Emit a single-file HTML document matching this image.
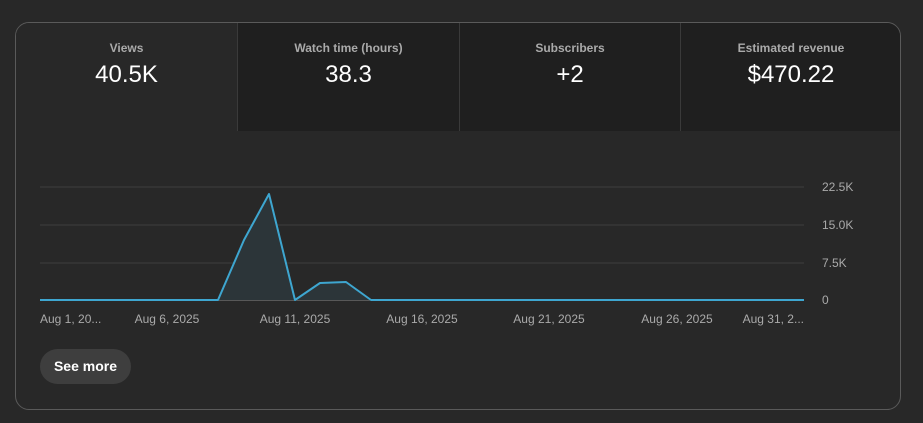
<!DOCTYPE html>
<html><head><style>
body{margin:0;width:923px;height:423px;background:#282828;font-family:"Liberation Sans",sans-serif;overflow:hidden;position:relative}
.card{position:absolute;left:15px;top:22px;width:884px;height:386px;border:1px solid #5a5a5a;border-radius:14px;overflow:hidden;background:#282828}
.tab{position:absolute;top:0;height:108px;text-align:center;background:#1f1f1f}
.tab .l{margin-top:18px;font-size:12px;color:#aaa;font-weight:bold}
.tab .v{margin-top:6px;font-size:24px;color:#fff}
.btn{position:absolute;left:40px;top:349px;width:91px;height:35px;border-radius:18px;background:#3e3e3e;color:#fff;font-weight:bold;font-size:14px;line-height:35px;text-align:center}
svg{position:absolute;left:0;top:0}
</style></head><body>
<div class="card">
<div class="tab" style="left:0;width:221px;background:#282828"><div class="l">Views</div><div class="v">40.5K</div></div>
<div class="tab" style="left:221px;width:221px;border-left:1px solid #3a3a3a"><div class="l">Watch time (hours)</div><div class="v">38.3</div></div>
<div class="tab" style="left:443px;width:220px;border-left:1px solid #3a3a3a"><div class="l">Subscribers</div><div class="v">+2</div></div>
<div class="tab" style="left:664px;width:220px;border-left:1px solid #3a3a3a"><div class="l">Estimated revenue</div><div class="v">$470.22</div></div>
</div>
<svg width="923" height="423" font-family="Liberation Sans, sans-serif" font-size="12" fill="#aaa">
<g stroke="#373737" stroke-width="1.5">
<line x1="40" y1="187" x2="804" y2="187"/><line x1="40" y1="225" x2="804" y2="225"/><line x1="40" y1="263" x2="804" y2="263"/>
</g>
<line x1="40" y1="300" x2="804" y2="300" stroke="#888" stroke-width="1"/>
<polygon points="218,300 244,240 269,194 295,300 320,283 346,282 371,300" fill="#2c3539"/>
<polyline points="40,300 218,300 244,240 269,194 295,300 320,283 346,282 371,300 804,300" fill="none" stroke="#3ea6d0" stroke-width="2" stroke-linejoin="round"/>
<text x="822" y="191">22.5K</text><text x="822" y="229">15.0K</text><text x="822" y="267">7.5K</text><text x="822" y="304">0</text>
<text x="40" y="323">Aug 1, 20...</text>
<text x="167" y="323" text-anchor="middle">Aug 6, 2025</text>
<text x="295" y="323" text-anchor="middle">Aug 11, 2025</text>
<text x="422" y="323" text-anchor="middle">Aug 16, 2025</text>
<text x="549" y="323" text-anchor="middle">Aug 21, 2025</text>
<text x="677" y="323" text-anchor="middle">Aug 26, 2025</text>
<text x="804" y="323" text-anchor="end">Aug 31, 2...</text>
</svg>
<div class="btn">See more</div>
</body></html>
